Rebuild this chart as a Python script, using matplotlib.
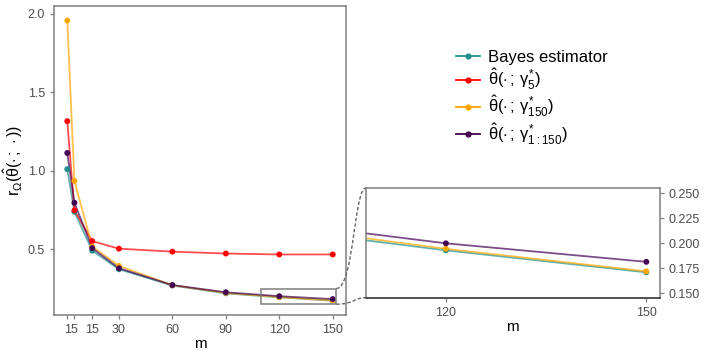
import matplotlib
matplotlib.use("Agg")
import matplotlib.pyplot as plt
from matplotlib.lines import Line2D
from matplotlib.path import Path
from matplotlib.patches import PathPatch, Rectangle

plt.rcParams["font.family"] = ["Liberation Sans", "DejaVu Sans"]
plt.rcParams["mathtext.fontset"] = "custom"
plt.rcParams["mathtext.rm"] = "Liberation Sans"
plt.rcParams["mathtext.it"] = "Liberation Sans"
plt.rcParams["mathtext.bf"] = "Liberation Sans:bold"

# data
m = [1, 5, 15, 30, 60, 90, 120, 150]
bayes = [1.010, 0.738, 0.490, 0.372, 0.268, 0.218, 0.193, 0.171]
gamma5 = [1.316, 0.747, 0.551, 0.503, 0.484, 0.472, 0.466, 0.466]
gamma150 = [1.957, 0.935, 0.517, 0.393, 0.270, 0.221, 0.1945, 0.172]
gamma_all = [1.113, 0.796, 0.506, 0.378, 0.271, 0.225, 0.200, 0.1815]

series = [
    ("Bayes estimator", bayes, "#21908C"),
    (r"$\hat{\theta}(\cdot\,;\,\gamma^{*}_{5})$", gamma5, "#FF0000"),
    (r"$\hat{\theta}(\cdot\,;\,\gamma^{*}_{150})$", gamma150, "#FFA500"),
    (r"$\hat{\theta}(\cdot\,;\,\gamma^{*}_{1:150})$", gamma_all, "#440154"),
]

fig = plt.figure(figsize=(7.06, 3.53), dpi=100)
ax = fig.add_axes([0.0765, 0.1076, 0.4136, 0.8754])
axz = fig.add_axes([0.518, 0.1567, 0.4164, 0.310])

for label, vals, col in series:
    for a in (ax, axz):
        a.plot(m, vals, color=col, lw=1.3, alpha=0.7, zorder=2)
        a.scatter(m, vals, color=col, s=18, zorder=3, edgecolors="none")

grey = "#4D4D4D"
for a in (ax, axz):
    for s in a.spines.values():
        s.set_color("#7F7F7F")
        s.set_linewidth(1.1)
    a.tick_params(colors="#7F7F7F", labelcolor=grey, labelsize=9, length=3, width=0.9)

ax.set_xlim(-6.45, 157.45)
ax.set_ylim(0.08, 2.05)
ax.set_xticks(m)
ax.set_xticklabels([str(v) for v in m])
ax.set_yticks([0.5, 1.0, 1.5, 2.0])
ax.set_yticklabels(["0.5", "1.0", "1.5", "2.0"])
ax.set_xlabel("m", fontsize=11, labelpad=1)
ax.set_ylabel(r"$\mathrm{r}_{\Omega}(\hat{\theta}(\cdot\,;\,\cdot))$", fontsize=11.5, labelpad=2)

# zoom panel
axz.set_xlim(108, 152)
axz.set_ylim(0.1457, 0.255)
axz.set_xticks([120, 150])
axz.set_yticks([0.150, 0.175, 0.200, 0.225, 0.250])
axz.set_yticklabels(["0.150", "0.175", "0.200", "0.225", "0.250"])
axz.yaxis.tick_right()
axz.spines["bottom"].set_color("#222222")
axz.set_xlabel("m", fontsize=11, labelpad=1)

# box on main plot
x0, x1, y0, y1 = 109.5, 152, 0.149, 0.249
ax.add_patch(Rectangle((x0, y0), x1 - x0, y1 - y0, fill=False,
                       edgecolor="#7F7F7F", lw=1.1, zorder=4))

# dashed connectors (curved)
fig.canvas.draw()
inv = fig.transFigure.inverted()
def fc(trans, pt):
    return inv.transform(trans.transform(pt))

a_top = fc(ax.transData, (x1, y1))
b_top = fc(axz.transAxes, (0, 1))
a_bot = fc(ax.transData, (x1, y0))
b_bot = fc(axz.transAxes, (0, 0))
for a_, b_ in ((a_top, b_top), (a_bot, b_bot)):
    dx = b_[0] - a_[0]
    verts = [a_, (a_[0] + dx * 0.6, a_[1]), (b_[0] - dx * 0.4, b_[1]), b_]
    path = Path(verts, [Path.MOVETO, Path.CURVE4, Path.CURVE4, Path.CURVE4])
    fig.add_artist(PathPatch(path, transform=fig.transFigure, fill=False,
                             edgecolor="#666666", lw=1.0, linestyle=(0, (2.5, 1.5))))

handles = [Line2D([0], [0], color=c, lw=1.3, marker="o", markersize=4.5,
                  markeredgewidth=0) for _, _, c in series]
labels = [s[0] for s in series]
fig.legend(handles, labels, loc="upper left", bbox_to_anchor=(0.625, 0.9),
           frameon=False, fontsize=12, handlelength=1.4, handletextpad=0.5,
           labelspacing=0.12)

fig.savefig("out.png", dpi=100)
